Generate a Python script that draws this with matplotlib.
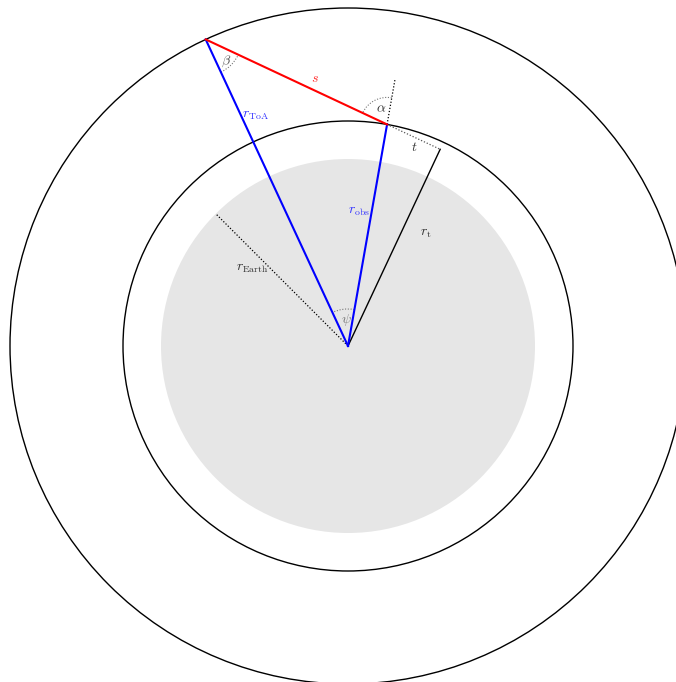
import numpy as np
import matplotlib
matplotlib.use("Agg")
import matplotlib.pyplot as plt
from matplotlib.patches import Circle, Arc

plt.rcParams['mathtext.fontset'] = 'cm'

# geometry (pixel-like units, centre of Earth at origin)
r_earth = 187.0
r_obs = 225.0
r_toa = 338.0
ang_obs = 80.0      # degrees, direction of observer
ang_toa = 114.9     # degrees, direction of top-of-atmosphere point
ang_earth_label = 135.0

def polar(r, deg):
    a = np.radians(deg)
    return np.array([r * np.cos(a), r * np.sin(a)])

fig = plt.figure(figsize=(6.76, 6.82), dpi=100)
ax = fig.add_axes([0, 0, 1, 1])
ax.set_xlim(-348, 328)
ax.set_ylim(-336, 346)
ax.set_aspect('equal')
ax.axis('off')

ax.add_patch(Circle((0, 0), r_earth, facecolor='#e6e6e6', edgecolor='none'))
ax.add_patch(Circle((0, 0), r_obs, facecolor='none', edgecolor='black', lw=1.0))
ax.add_patch(Circle((0, 0), r_toa, facecolor='none', edgecolor='black', lw=1.0))

O = np.array([0.0, 0.0])
P_obs = polar(r_obs, ang_obs)
P_toa = polar(r_toa, ang_toa)

# tangent point along the line of sight
d = P_obs - P_toa
d = d / np.linalg.norm(d)
t_len = -np.dot(P_obs, d)
P_t = P_obs + t_len * d

# r_Earth dotted radius
P_e = polar(r_earth, ang_earth_label)
ax.plot([0, P_e[0]], [0, P_e[1]], color='black', lw=0.9, ls=(0, (1, 1.5)))

# r_t
ax.plot([0, P_t[0]], [0, P_t[1]], color='black', lw=1.0)
# t dotted
ax.plot([P_obs[0], P_t[0]], [P_obs[1], P_t[1]], color='#555555', lw=0.9, ls=(0, (1, 1.5)))
# extension of r_obs (zenith)
P_z = polar(r_obs + 45, ang_obs)
ax.plot([P_obs[0], P_z[0]], [P_obs[1], P_z[1]], color='black', lw=0.9, ls=(0, (1, 1.5)))

# radii and line of sight
ax.plot([0, P_toa[0]], [0, P_toa[1]], color='#0000ff', lw=1.5)
ax.plot([0, P_obs[0]], [0, P_obs[1]], color='#0000ff', lw=1.5)
ax.plot([P_toa[0], P_obs[0]], [P_toa[1], P_obs[1]], color='#ff0000', lw=1.5)

# angle arcs
dotted = dict(color='#777777', lw=0.8, ls=(0, (1, 1.5)))
ax.add_patch(Arc(O, 74, 74, theta1=ang_obs, theta2=ang_toa, **dotted))
dir_s = np.degrees(np.arctan2(d[1], d[0]))
dir_c = np.degrees(np.arctan2(-P_toa[1], -P_toa[0]))
ax.add_patch(Arc(P_toa, 72, 72, theta1=dir_c, theta2=dir_s, **dotted))
back = np.degrees(np.arctan2(-d[1], -d[0]))
ax.add_patch(Arc(P_obs, 54, 54, theta1=ang_obs, theta2=back, **dotted))

def px(x, y):
    return x - 348, 346 - y

lbl = dict(ha='center', va='center', fontsize=10)
ax.text(*px(226, 61), r'$\beta$', color='#555555', **lbl)
ax.text(*px(315, 78), r'$s$', color='#ff3333', **lbl)
ax.text(*px(256, 115), r'$r_{\mathrm{ToA}}$', color='#3333ff', **lbl)
ax.text(*px(381, 108), r'$\alpha$', color='#333333', **lbl)
ax.text(*px(414, 147), r'$t$', color='#333333', **lbl)
ax.text(*px(359, 211), r'$r_{\mathrm{obs}}$', color='#3333ff', **lbl)
ax.text(*px(426, 233), r'$r_{\mathrm{t}}$', color='#333333', **lbl)
ax.text(*px(252, 268), r'$r_{\mathrm{Earth}}$', color='#333333', **lbl)
ax.text(*px(346, 320), r'$\psi$', color='#777777', **lbl)

fig.savefig('out.png', dpi=100)
